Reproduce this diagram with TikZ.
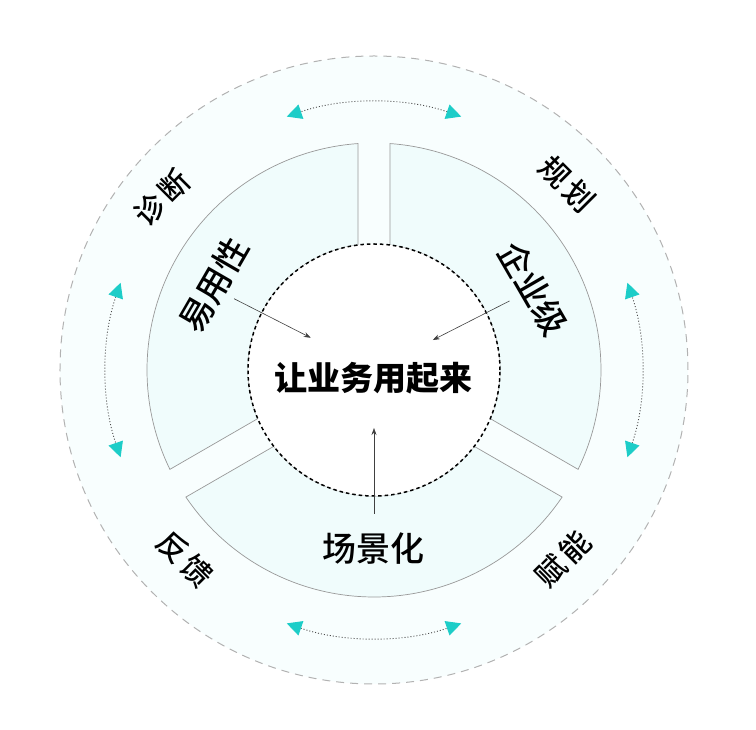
\documentclass[tikz,border=0pt]{standalone}
\usepackage{fontspec}
\setmainfont{Noto Sans CJK SC}
\newfontfamily\cjkmedium{Noto Sans CJK SC Medium}
\usetikzlibrary{arrows.meta}
\definecolor{ringbg}{HTML}{F8FEFE}
\definecolor{sectorbg}{HTML}{F0FCFC}
\definecolor{tipcyan}{HTML}{1DCDC8}

\begin{document}
\begin{tikzpicture}[x=1pt, y=1pt]
  \tikzset{sector/.style={draw=black!40, line width=0.7pt, fill=sectorbg},
           swap arrow/.style={black!70, line width=0.9pt, dash pattern=on 1pt off 2pt,
             {Triangle[length=15pt,width=15pt,color=tipcyan]}-{Triangle[length=15pt,width=15pt,color=tipcyan]}},
           push arrow/.style={black!75, line width=0.6pt, -{Stealth[length=7pt,width=5pt]}},
           sector label/.style={font=\fontsize{34}{34}\cjkmedium, inner sep=0pt},
           outer label/.style={font=\fontsize{30}{30}\cjkmedium, inner sep=0pt}}
  \useasboundingbox (-374,-360) rectangle (382,370);
  \fill[ringbg] (0,0) circle[radius=314];
  \draw[black!30, line width=1pt, dash pattern=on 8pt off 6pt] (0,0) circle[radius=314];
  \foreach \a in {30,150,270}
    \draw[sector] ({\a+55.96}:227) arc[start angle=\a+55.96, end angle=\a-55.96, radius=227]
      -- ({\a-52.7}:126) arc[start angle=\a-52.7, end angle=\a+52.7, radius=126] -- cycle;
  \draw[fill=white, line width=1.5pt, dash pattern=on 3.5pt off 3pt] (0,0) circle[radius=126];
  \node[font=\fontsize{33}{33}\selectfont\bfseries, inner sep=0pt] (core) at (0,-8) {让业务用起来};
  \node[sector label, rotate=60] (ease) at (152:181) {易用性};
  \node[sector label, rotate=-60] (scale) at (27:179) {企业级};
  \node[sector label] (scene) at (270:179) {场景化};
  \node[outer label, rotate=45] (diagnose) at (141:273) {诊\hspace{4pt}断};
  \node[outer label, rotate=-45] (plan) at (44:268) {规\hspace{4pt}划};
  \node[outer label, rotate=-45] (feedback) at (225:267) {反\hspace{4pt}馈};
  \node[outer label, rotate=45] (enable) at (315:267) {赋\hspace{4pt}能};
  \coordinate (ease out) at (153:157);
  \coordinate (ease in) at (153:71);
  \coordinate (scale out) at (27:152);
  \coordinate (scale in) at (27:66);
  \coordinate (scene out) at (270:144);
  \coordinate (scene in) at (270:58);
  \draw[push arrow] (ease out) -- (ease in);
  \draw[push arrow] (scale out) -- (scale in);
  \draw[push arrow] (scene out) -- (scene in);
  \foreach \a [count=\i] in {0,90,180,270} {
    \coordinate (swap\i) at ({\a-19}:268);
    \draw[swap arrow] (swap\i) arc[start angle=\a-19, end angle=\a+19, radius=268];
  }
\end{tikzpicture}
\end{document}
